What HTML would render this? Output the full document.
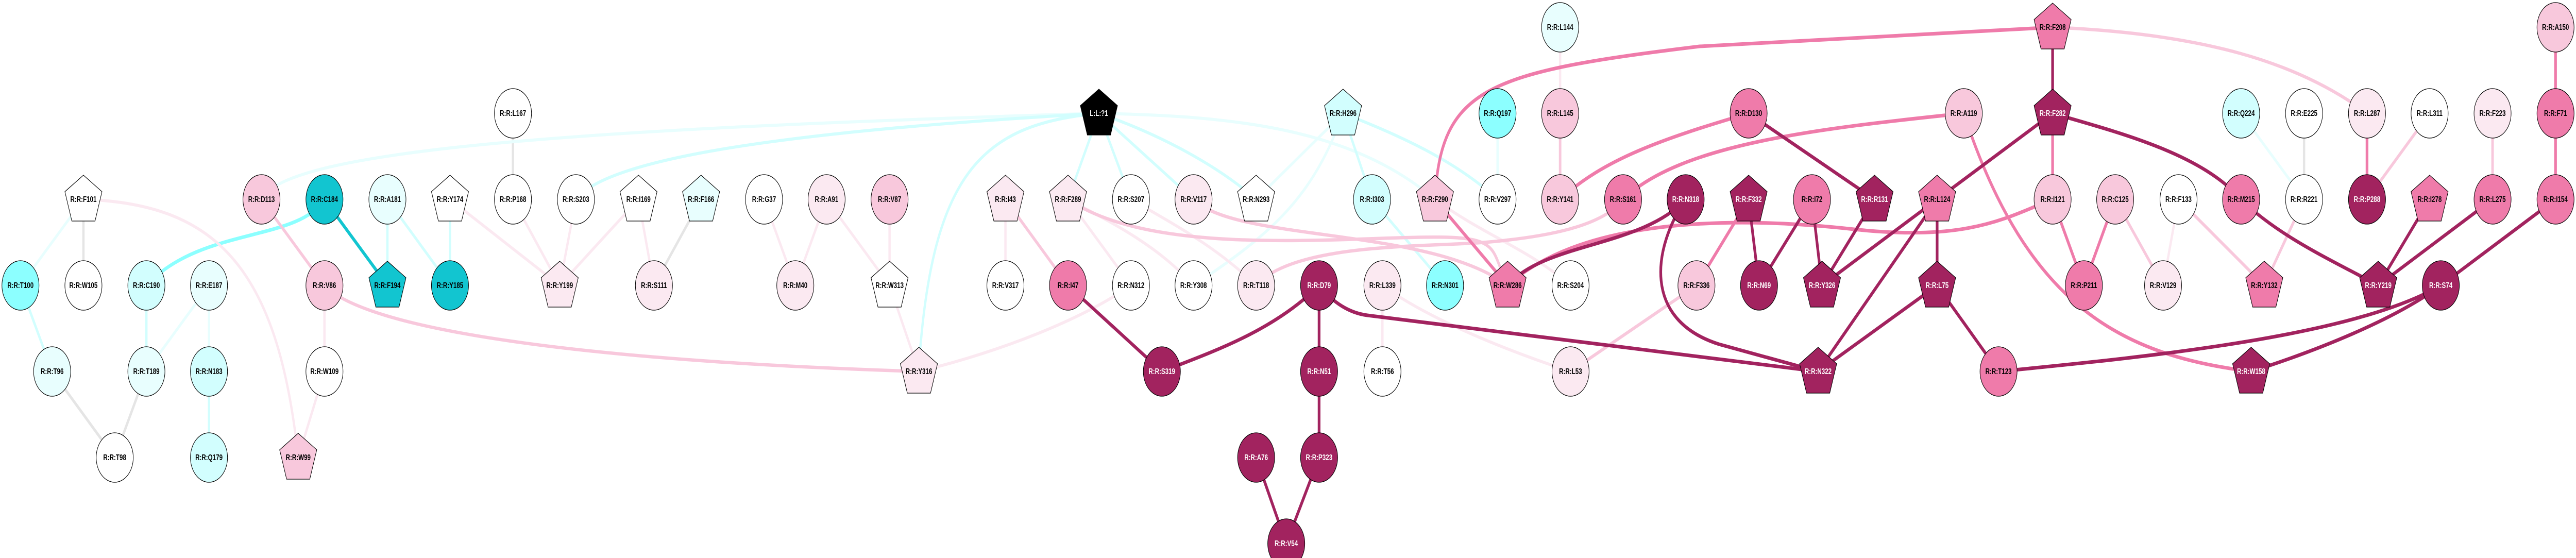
<!DOCTYPE html>
<html><head><meta charset="utf-8"><style>
html,body{margin:0;padding:0;background:#fff;width:100%;height:100%;overflow:hidden;}
svg{display:block;position:absolute;left:0;top:0;width:100vw;height:100vh;}
text{font-family:"Liberation Sans",Arial,sans-serif;font-weight:bold;font-size:15.5px;text-anchor:middle;dominant-baseline:central;}
</style></head><body>
<svg viewBox="0 0 6669 1083" preserveAspectRatio="none" xmlns="http://www.w3.org/2000/svg">
<g fill="none" stroke-linecap="butt">
<g stroke="#E5E5E5" stroke-width="6">
<line x1="216" y1="387" x2="216" y2="554"/>
<line x1="135" y1="721" x2="297" y2="888"/>
<line x1="379" y1="721" x2="297" y2="888"/>
<line x1="1328" y1="220" x2="1328" y2="387"/>
<line x1="1815" y1="387" x2="1693" y2="554"/>
<line x1="5965" y1="220" x2="5965" y2="387"/>
</g>
<g stroke="#E8FEFE" stroke-width="6">
<line x1="216" y1="387" x2="53" y2="554"/>
<line x1="541" y1="554" x2="379" y2="721"/>
<line x1="541" y1="554" x2="541" y2="721"/>
<line x1="3877" y1="220" x2="3877" y2="387"/>
<line x1="5802" y1="220" x2="5965" y2="387"/>
<line x1="3477" y1="220" x2="3252" y2="387"/>
<path d="M677,387 C740,290 1500,250 2845,220"/>
<path d="M2845,220 C3200,225 3500,250 3715,387"/>
<path d="M3477,220 C3400,380 3300,450 3090,554"/>
</g>
<g stroke="#D2FEFE" stroke-width="6">
<line x1="53" y1="554" x2="135" y2="721"/>
<line x1="379" y1="554" x2="379" y2="721"/>
<line x1="541" y1="721" x2="541" y2="888"/>
<line x1="1003" y1="387" x2="1003" y2="554"/>
<line x1="1003" y1="387" x2="1165" y2="554"/>
<line x1="1165" y1="387" x2="1165" y2="554"/>
<line x1="2845" y1="220" x2="2765" y2="387"/>
<line x1="2845" y1="220" x2="2928" y2="387"/>
<line x1="2845" y1="220" x2="3090" y2="387"/>
<line x1="3477" y1="220" x2="3552" y2="387"/>
<line x1="3552" y1="387" x2="3741" y2="554"/>
<path d="M1491,387 C1560,320 1900,260 2845,220"/>
<path d="M2845,220 C2550,240 2420,330 2382,680"/>
<path d="M2845,220 C3000,260 3150,320 3252,387"/>
<path d="M3477,220 C3650,270 3780,320 3877,387"/>
</g>
<path d="M840,387 C770,470 520,440 379,554" stroke="#8CFFFF" stroke-width="7"/>
<line x1="840" y1="387" x2="1003" y2="554" stroke="#12C5D0" stroke-width="7"/>
<g stroke="#FBE9F1" stroke-width="6">
<path d="M216,387 C560,395 720,520 772,888"/>
<line x1="840" y1="554" x2="840" y2="721"/>
<line x1="840" y1="721" x2="772" y2="888"/>
<line x1="1165" y1="387" x2="1449" y2="554"/>
<line x1="1328" y1="387" x2="1449" y2="554"/>
<line x1="1491" y1="387" x2="1449" y2="554"/>
<line x1="1653" y1="387" x2="1449" y2="554"/>
<line x1="1653" y1="387" x2="1693" y2="554"/>
<line x1="1978" y1="387" x2="2059" y2="554"/>
<line x1="2140" y1="387" x2="2059" y2="554"/>
<line x1="2140" y1="387" x2="2303" y2="554"/>
<line x1="2303" y1="387" x2="2303" y2="554"/>
<line x1="2303" y1="554" x2="2379" y2="721"/>
<line x1="2603" y1="387" x2="2603" y2="554"/>
<line x1="2765" y1="387" x2="2928" y2="554"/>
<path d="M2928,554 C2800,620 2600,680 2379,721"/>
<path d="M2765,387 C2900,440 3000,480 3090,554"/>
<path d="M2928,387 C3050,440 3150,480 3252,554"/>
<line x1="4039" y1="53" x2="4039" y2="220"/>
<line x1="3579" y1="554" x2="3579" y2="721"/>
<path d="M3579,554 C3700,620 3900,680 4066,721"/>
<path d="M3715,387 C3850,460 3950,480 4066,554"/>
<line x1="5640" y1="387" x2="5600" y2="554"/>
</g>
<g stroke="#F8C8DC" stroke-width="6.5">
<line x1="677" y1="387" x2="840" y2="554"/>
<path d="M840,554 C950,640 1500,700 2379,721"/>
<line x1="2603" y1="387" x2="2765" y2="554"/>
<path d="M2765,387 C2950,480 3300,470 3600,462 S3850,470 3903,554"/>
<path d="M3090,387 C3200,470 3700,440 3903,554"/>
<path d="M3252,554 C3350,470 3700,480 3850,470 S4150,440 4202,387"/>
<line x1="4039" y1="220" x2="4039" y2="387"/>
<line x1="4392" y1="554" x2="4066" y2="721"/>
<line x1="5476" y1="387" x2="5600" y2="554"/>
<path d="M5314,53 C5700,65 5950,120 6128,220"/>
<line x1="6290" y1="220" x2="6128" y2="387"/>
<line x1="6453" y1="220" x2="6453" y2="387"/>
<line x1="5640" y1="387" x2="5862" y2="554"/>
<line x1="5965" y1="387" x2="5862" y2="554"/>
</g>
<g stroke="#EF7BAA" stroke-width="7">
<line x1="3715" y1="387" x2="3903" y2="554"/>
<path d="M3903,554 C4100,420 4500,420 4800,445 S5200,420 5314,387"/>
<path d="M4527,220 C4300,270 4150,310 4039,387"/>
<path d="M5084,220 C4700,250 4350,280 4202,387"/>
<path d="M3715,387 C3730,170 3850,140 4400,90 L5314,53"/>
<path d="M5084,220 C5250,600 5500,690 5828,721"/>
<line x1="5314" y1="220" x2="5314" y2="387"/>
<line x1="5314" y1="387" x2="5395" y2="554"/>
<line x1="5476" y1="387" x2="5395" y2="554"/>
<line x1="4527" y1="387" x2="4392" y2="554"/>
<line x1="6128" y1="220" x2="6128" y2="387"/>
<line x1="6616" y1="53" x2="6616" y2="220"/>
<line x1="6616" y1="220" x2="6616" y2="387"/>
</g>
<g stroke="#A2235F" stroke-width="7">
<line x1="2765" y1="554" x2="3008" y2="721"/>
<path d="M3415,554 C3300,640 3150,680 3008,721"/>
<line x1="3415" y1="554" x2="3415" y2="721"/>
<line x1="3415" y1="721" x2="3415" y2="888"/>
<line x1="3415" y1="888" x2="3330" y2="1055"/>
<line x1="3252" y1="888" x2="3330" y2="1055"/>
<path d="M3415,554 Q3470,605 3540,612 L4707,721"/>
<path d="M4364,387 C4280,480 4250,620 4450,668 L4707,721"/>
<path d="M4364,387 C4250,480 4000,470 3903,554"/>
<line x1="5314" y1="53" x2="5314" y2="220"/>
<line x1="4527" y1="220" x2="4853" y2="387"/>
<line x1="5314" y1="220" x2="5015" y2="387"/>
<path d="M5314,220 C5500,260 5700,300 5802,387"/>
<line x1="4527" y1="387" x2="4554" y2="554"/>
<line x1="4691" y1="387" x2="4554" y2="554"/>
<line x1="4691" y1="387" x2="4717" y2="554"/>
<line x1="4853" y1="387" x2="4717" y2="554"/>
<line x1="5015" y1="387" x2="4717" y2="554"/>
<line x1="5015" y1="387" x2="4707" y2="721"/>
<line x1="5015" y1="387" x2="5015" y2="554"/>
<line x1="5015" y1="554" x2="4707" y2="721"/>
<line x1="5015" y1="554" x2="5174" y2="721"/>
<path d="M5174,721 C5600,690 6100,650 6319,554"/>
<path d="M6319,554 C6200,620 6000,680 5828,721"/>
<path d="M5802,387 C5900,460 6050,510 6157,554"/>
<line x1="6290" y1="387" x2="6157" y2="554"/>
<line x1="6453" y1="387" x2="6157" y2="554"/>
<line x1="6616" y1="387" x2="6319" y2="554"/>
</g>
</g>
<defs>
<circle id="c" r="48"/>
<polygon id="p" points="0,-47 48,-15 30,42 -30,42 -48,-15"/>
</defs>
<g stroke="#000" stroke-width="1.3">
<g fill="#FFFFFF">
<use href="#p" x="216" y="387"/><use href="#c" x="216" y="554"/><use href="#c" x="297" y="888"/>
<use href="#c" x="840" y="721"/><use href="#p" x="1165" y="387"/><use href="#c" x="1328" y="220"/>
<use href="#c" x="1328" y="387"/><use href="#c" x="1491" y="387"/><use href="#p" x="1653" y="387"/>
<use href="#c" x="1978" y="387"/><use href="#p" x="2303" y="554"/><use href="#c" x="2603" y="554"/>
<use href="#c" x="2928" y="387"/><use href="#c" x="2928" y="554"/><use href="#c" x="3090" y="554"/>
<use href="#p" x="3252" y="387"/><use href="#c" x="3877" y="387"/><use href="#c" x="4066" y="554"/>
<use href="#c" x="3579" y="721"/><use href="#c" x="5965" y="220"/><use href="#c" x="6290" y="220"/>
<use href="#c" x="5640" y="387"/><use href="#c" x="5965" y="387"/>
</g>
<g fill="#E8FEFE">
<use href="#c" x="135" y="721"/><use href="#c" x="379" y="721"/><use href="#c" x="541" y="554"/>
<use href="#c" x="1003" y="387"/><use href="#p" x="1815" y="387"/><use href="#c" x="4039" y="53"/>
</g>
<g fill="#D2FEFE">
<use href="#c" x="379" y="554"/><use href="#c" x="541" y="721"/><use href="#c" x="541" y="888"/>
<use href="#p" x="3477" y="220"/><use href="#c" x="3552" y="387"/><use href="#c" x="5802" y="220"/>
</g>
<g fill="#8CFFFF">
<use href="#c" x="53" y="554"/><use href="#c" x="3877" y="220"/><use href="#c" x="3741" y="554"/>
</g>
<g fill="#12C5D0">
<use href="#c" x="840" y="387"/><use href="#p" x="1003" y="554"/><use href="#c" x="1165" y="554"/>
</g>
<g fill="#FBE9F1">
<use href="#p" x="1449" y="554"/><use href="#c" x="1693" y="554"/><use href="#c" x="2140" y="387"/>
<use href="#c" x="2059" y="554"/><use href="#p" x="2379" y="721"/><use href="#p" x="2603" y="387"/>
<use href="#p" x="2765" y="387"/><use href="#c" x="3090" y="387"/><use href="#c" x="3252" y="554"/>
<use href="#c" x="3579" y="554"/><use href="#c" x="4066" y="721"/><use href="#c" x="6128" y="220"/>
<use href="#c" x="6453" y="220"/><use href="#c" x="5600" y="554"/>
</g>
<g fill="#F8C8DC">
<use href="#p" x="772" y="888"/><use href="#c" x="677" y="387"/><use href="#c" x="840" y="554"/>
<use href="#c" x="2303" y="387"/><use href="#p" x="3715" y="387"/><use href="#c" x="4039" y="220"/>
<use href="#c" x="4039" y="387"/><use href="#c" x="4392" y="554"/><use href="#c" x="5084" y="220"/>
<use href="#c" x="5314" y="387"/><use href="#c" x="5476" y="387"/><use href="#c" x="6616" y="53"/>
</g>
<g fill="#EF7BAA">
<use href="#c" x="2765" y="554"/><use href="#c" x="4202" y="387"/><use href="#p" x="3903" y="554"/>
<use href="#p" x="5314" y="53"/><use href="#c" x="4527" y="220"/><use href="#c" x="4691" y="387"/>
<use href="#p" x="5015" y="387"/><use href="#c" x="5395" y="554"/><use href="#c" x="5174" y="721"/>
<use href="#c" x="6616" y="220"/><use href="#c" x="5802" y="387"/><use href="#p" x="6290" y="387"/>
<use href="#c" x="6453" y="387"/><use href="#c" x="6616" y="387"/><use href="#p" x="5862" y="554"/>
</g>
<g fill="#A2235F">
<use href="#c" x="3008" y="721"/><use href="#c" x="3252" y="888"/><use href="#c" x="3330" y="1055"/>
<use href="#c" x="4364" y="387"/><use href="#c" x="3415" y="554"/><use href="#c" x="3415" y="721"/>
<use href="#c" x="3415" y="888"/><use href="#p" x="5314" y="220"/><use href="#p" x="4527" y="387"/>
<use href="#p" x="4853" y="387"/><use href="#c" x="4554" y="554"/><use href="#p" x="4717" y="554"/>
<use href="#p" x="5015" y="554"/><use href="#p" x="4707" y="721"/><use href="#c" x="6128" y="387"/>
<use href="#p" x="6157" y="554"/><use href="#c" x="6319" y="554"/><use href="#p" x="5828" y="721"/>
</g>
<use href="#p" x="2845" y="220" fill="#000"/>
</g>
<g fill="#000">
<text x="216" y="387">R:R:F101</text><text x="216" y="554">R:R:W105</text><text x="297" y="888">R:R:T98</text>
<text x="840" y="721">R:R:W109</text><text x="1165" y="387">R:R:Y174</text><text x="1328" y="220">R:R:L167</text>
<text x="1328" y="387">R:R:P168</text><text x="1491" y="387">R:R:S203</text><text x="1653" y="387">R:R:I169</text>
<text x="1978" y="387">R:R:G37</text><text x="2303" y="554">R:R:W313</text><text x="2603" y="554">R:R:V317</text>
<text x="2928" y="387">R:R:S207</text><text x="2928" y="554">R:R:N312</text><text x="3090" y="554">R:R:Y308</text>
<text x="3252" y="387">R:R:N293</text><text x="3877" y="387">R:R:V297</text><text x="4066" y="554">R:R:S204</text>
<text x="3579" y="721">R:R:T56</text><text x="5965" y="220">R:R:E225</text><text x="6290" y="220">R:R:L311</text>
<text x="5640" y="387">R:R:F133</text><text x="5965" y="387">R:R:R221</text>
<text x="135" y="721">R:R:T96</text><text x="379" y="721">R:R:T189</text><text x="541" y="554">R:R:E187</text>
<text x="1003" y="387">R:R:A181</text><text x="1815" y="387">R:R:F166</text><text x="4039" y="53">R:R:L144</text>
<text x="379" y="554">R:R:C190</text><text x="541" y="721">R:R:N183</text><text x="541" y="888">R:R:Q179</text>
<text x="3477" y="220">R:R:H296</text><text x="3552" y="387">R:R:I303</text><text x="5802" y="220">R:R:Q224</text>
<text x="53" y="554">R:R:T100</text><text x="3877" y="220">R:R:Q197</text><text x="3741" y="554">R:R:N301</text>
<text x="840" y="387">R:R:C184</text><text x="1003" y="554">R:R:F194</text><text x="1165" y="554">R:R:Y185</text>
<text x="1449" y="554">R:R:Y199</text><text x="1693" y="554">R:R:S111</text><text x="2140" y="387">R:R:A91</text>
<text x="2059" y="554">R:R:M40</text><text x="2379" y="721">R:R:Y316</text><text x="2603" y="387">R:R:I43</text>
<text x="2765" y="387">R:R:F289</text><text x="3090" y="387">R:R:V117</text><text x="3252" y="554">R:R:T118</text>
<text x="3579" y="554">R:R:L339</text><text x="4066" y="721">R:R:L53</text><text x="6128" y="220">R:R:L287</text>
<text x="6453" y="220">R:R:F223</text><text x="5600" y="554">R:R:V129</text>
<text x="772" y="888">R:R:W99</text><text x="677" y="387">R:R:D113</text><text x="840" y="554">R:R:V86</text>
<text x="2303" y="387">R:R:V87</text><text x="3715" y="387">R:R:F290</text><text x="4039" y="220">R:R:L145</text>
<text x="4039" y="387">R:R:Y141</text><text x="4392" y="554">R:R:F336</text><text x="5084" y="220">R:R:A119</text>
<text x="5314" y="387">R:R:I121</text><text x="5476" y="387">R:R:C125</text><text x="6616" y="53">R:R:A150</text>
<text x="2765" y="554">R:R:I47</text><text x="4202" y="387">R:R:S161</text><text x="3903" y="554">R:R:W286</text>
<text x="5314" y="53">R:R:F208</text><text x="4527" y="220">R:R:D130</text><text x="4691" y="387">R:R:I72</text>
<text x="5015" y="387">R:R:L124</text><text x="5395" y="554">R:R:P211</text><text x="5174" y="721">R:R:T123</text>
<text x="6616" y="220">R:R:F71</text><text x="5802" y="387">R:R:M215</text><text x="6290" y="387">R:R:I278</text>
<text x="6453" y="387">R:R:L275</text><text x="6616" y="387">R:R:I154</text><text x="5862" y="554">R:R:Y132</text>
</g>
<g fill="#FFFFFF">
<text x="3008" y="721">R:R:S319</text><text x="3252" y="888">R:R:A76</text><text x="3330" y="1055">R:R:V54</text>
<text x="4364" y="387">R:R:N318</text><text x="3415" y="554">R:R:D79</text><text x="3415" y="721">R:R:N51</text>
<text x="3415" y="888">R:R:P323</text><text x="5314" y="220">R:R:F282</text><text x="4527" y="387">R:R:F332</text>
<text x="4853" y="387">R:R:R131</text><text x="4554" y="554">R:R:N69</text><text x="4717" y="554">R:R:Y326</text>
<text x="5015" y="554">R:R:L75</text><text x="4707" y="721">R:R:N322</text><text x="6128" y="387">R:R:P288</text>
<text x="6157" y="554">R:R:Y219</text><text x="6319" y="554">R:R:S74</text><text x="5828" y="721">R:R:W158</text>
<text x="2845" y="220">L:L:?1</text>
</g>
</svg>
</body></html>
